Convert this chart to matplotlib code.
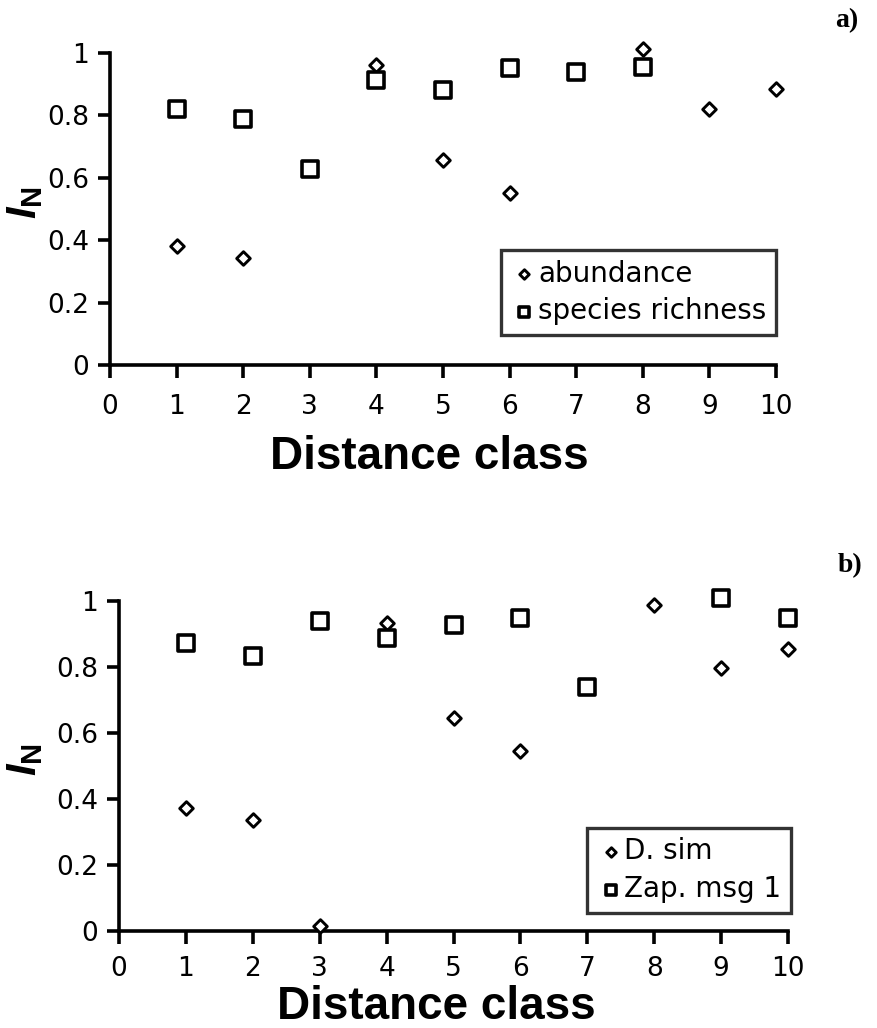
import matplotlib
matplotlib.use("Agg")
import matplotlib.pyplot as plt

plt.rcParams['font.family'] = ['DejaVu Sans']
plt.rcParams['mathtext.fontset'] = 'custom'
plt.rcParams['mathtext.it'] = 'Liberation Sans:bold:italic'
plt.rcParams['mathtext.bf'] = 'Liberation Sans:bold'
plt.rcParams['mathtext.rm'] = 'Liberation Sans'

# ---- data ----
classes_a_abund = [1, 2, 4, 5, 6, 8, 9, 10]
abundance = [0.38, 0.343, 0.96, 0.656, 0.55, 1.012, 0.821, 0.885]
classes_a_rich = [1, 2, 3, 4, 5, 6, 7, 8]
richness = [0.819, 0.789, 0.628, 0.912, 0.881, 0.952, 0.938, 0.954]

classes_b_dsim = [1, 2, 3, 4, 5, 6, 8, 9, 10]
dsim = [0.374, 0.337, 0.016, 0.932, 0.645, 0.544, 0.987, 0.798, 0.855]
classes_b_zap = [1, 2, 3, 4, 5, 6, 7, 9, 10]
zap = [0.874, 0.832, 0.939, 0.889, 0.926, 0.949, 0.739, 1.010, 0.949]

xticks = list(range(0, 11))
yticks = [0, 0.2, 0.4, 0.6, 0.8, 1]
ytick_labels = ['0', '0.2', '0.4', '0.6', '0.8', '1']

W, H = 877, 1028
fig = plt.figure(figsize=(W / 100, H / 100), dpi=100)


def box(l, r, t, b):
    return [l / W, 1 - b / H, (r - l) / W, (b - t) / H]


ax_a = fig.add_axes(box(110, 776, 53, 365))
ax_b = fig.add_axes(box(119, 788, 601, 931))


def style(ax, x1, y1, x2, y2, labels, legend_anchor, xpad):
    ax.scatter(x1, y1, marker='D', s=48, facecolor='white', edgecolor='black',
               linewidths=2.1, clip_on=False, zorder=3, label=labels[0])
    ax.scatter(x2, y2, marker='s', s=120, facecolor='white', edgecolor='black',
               linewidths=2.6, clip_on=False, zorder=3, label=labels[1])
    ax.set_xlim(0, 10)
    ax.set_ylim(0, 1)
    ax.set_xticks(xticks)
    ax.set_yticks(yticks)
    ax.set_yticklabels(ytick_labels)
    for s in ['top', 'right']:
        ax.spines[s].set_visible(False)
    for s in ['left', 'bottom']:
        ax.spines[s].set_linewidth(2.6)
    ax.tick_params(axis='both', direction='out', length=9, width=2.6,
                   labelsize=19, pad=6)
    ax.tick_params(axis='x', pad=xpad)
    ax.set_xlabel('Distance class', fontsize=33, fontweight='bold',
                  family='Liberation Sans')
    ax.set_ylabel(r'$\mathit{I}_{\mathbf{N}}$', fontsize=30)
    leg = ax.legend(loc='lower right', bbox_to_anchor=legend_anchor,
                    frameon=True, fancybox=False, shadow=False,
                    fontsize=20, handletextpad=0.0, borderpad=0.35,
                    labelspacing=0.35, handlelength=1.0, markerscale=0.7,
                    borderaxespad=0)
    leg.get_frame().set_edgecolor('black')
    leg.get_frame().set_linewidth(2.4)


style(ax_a, classes_a_abund, abundance, classes_a_rich, richness,
      ['abundance', 'species richness'], (1.0, 0.096), 12)
style(ax_b, classes_b_dsim, dsim, classes_b_zap, zap,
      ['D. sim', 'Zap. msg 1'], (1.005, 0.055), 9)

ax_a.xaxis.set_label_coords(0.48, -0.225)
ax_b.xaxis.set_label_coords(0.475, -0.165)
ax_a.yaxis.set_label_coords(-0.098, 0.52)
ax_b.yaxis.set_label_coords(-0.11, 0.52)

fig.text(847 / W, 1 - 21 / H, 'a)', fontsize=20, fontweight='bold',
         family='Liberation Serif', ha='center', va='center')
fig.text(850 / W, 1 - 566 / H, 'b)', fontsize=20, fontweight='bold',
         family='Liberation Serif', ha='center', va='center')

fig.savefig('out.png', dpi=100)
